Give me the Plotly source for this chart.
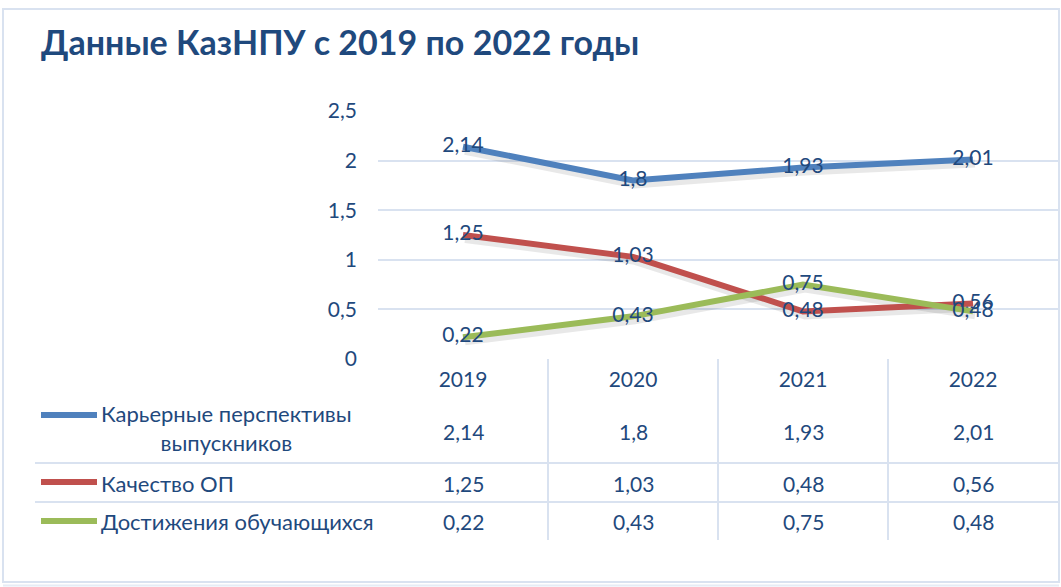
import plotly.graph_objects as go

# ---- data ----
years = ["2019", "2020", "2021", "2022"]
series_names = ["Карьерные перспективы<br>выпускников", "Качество ОП", "Достижения обучающихся"]
career = [2.14, 1.80, 1.93, 2.01]
quality = [1.25, 1.03, 0.48, 0.56]
achievements = [0.22, 0.43, 0.75, 0.48]
y_ticks = [0, 0.5, 1, 1.5, 2, 2.5]
title_text = "Данные КазНПУ с 2019 по 2022 годы"

series_values = [career, quality, achievements]
colors = ["#4F81BD", "#C0504D", "#9BBB59"]
TXT = "#1F497D"
GRID = "#D9E2F0"
FONT = "Lato"

W, H = 1061, 587
L, R, T, B = 378, 3, 111, 228
PW = W - L - R
PH = H - T - B


def fmt(v):
    return f"{v:g}".replace(".", ",")


def px_x(px):
    return (px - L) / PW


def px_y(py):
    return (H - B - py) / PH


fig = go.Figure()

# shadows (base axes, shifted range)
for vals in series_values:
    fig.add_trace(go.Scatter(
        x=years, y=vals, mode="lines", xaxis="x", yaxis="y",
        line=dict(color="rgba(0,0,0,0.09)", width=8), hoverinfo="skip", showlegend=False))

# main lines
for vals, col, name in zip(series_values, colors, series_names):
    fig.add_trace(go.Scatter(
        x=years, y=vals, mode="lines+text", xaxis="x2", yaxis="y2",
        name=name.replace("<br>", " "),
        line=dict(color=col, width=6),
        text=[fmt(v) for v in vals], textposition="middle center",
        textfont=dict(family=FONT, size=21, color=TXT),
        showlegend=False, cliponaxis=False))

shapes = []
annotations = []

n = len(years)
# table vertical dividers
for k in range(1, n):
    xv = k / n
    shapes.append(dict(type="line", xref="paper", yref="paper", x0=xv, x1=xv,
                       y0=0, y1=px_y(540), line=dict(color=GRID, width=2)))
# table horizontal lines
for py in [463, 502]:
    shapes.append(dict(type="line", xref="paper", yref="paper", x0=px_x(35), x1=1,
                       y0=px_y(py), y1=px_y(py), line=dict(color=GRID, width=2)))
# outer border
shapes.append(dict(type="rect", xref="paper", yref="paper",
                   x0=px_x(3), x1=px_x(1059), y0=px_y(582), y1=px_y(9),
                   line=dict(color=GRID, width=2)))
shapes.append(dict(type="line", xref="paper", yref="paper",
                   x0=px_x(3), x1=px_x(1059), y0=px_y(585.5), y1=px_y(585.5),
                   line=dict(color="#E6ECF5", width=2)))

row_y = [431, 483, 521]
key_y = [415, 482, 521]
label_y = [428, 483, 521]
for i, (vals, col, name) in enumerate(zip(series_values, colors, series_names)):
    shapes.append(dict(type="line", xref="paper", yref="paper",
                       x0=px_x(41), x1=px_x(97), y0=px_y(key_y[i]), y1=px_y(key_y[i]),
                       line=dict(color=col, width=6)))
    annotations.append(dict(text=name, xref="paper", yref="paper", x=px_x(99), y=px_y(label_y[i]),
                            xanchor="left", yanchor="middle", align="center", showarrow=False,
                            font=dict(family=FONT, size=22, color=TXT)))
    for j, v in enumerate(vals):
        annotations.append(dict(text=fmt(v), xref="paper", yref="paper", x=(j + 0.5) / n,
                                y=px_y(row_y[i]), xanchor="center", yanchor="middle",
                                showarrow=False, font=dict(family=FONT, size=21, color=TXT)))

annotations.append(dict(text=f"<b>{title_text}</b>", xref="paper", yref="paper",
                        x=px_x(39), y=px_y(42), xanchor="left", yanchor="middle",
                        showarrow=False, font=dict(family=FONT, size=34, color=TXT)))

dy = 4 * 2.5 / PH
dx = 2 * 4 / PW
fig.update_layout(
    width=W, height=H, autosize=False,
    margin=dict(l=L, r=R, t=T, b=B),
    paper_bgcolor="white", plot_bgcolor="white",
    separators=", ",
    xaxis=dict(type="category", range=[-0.5 - dx, 3.5 - dx], visible=False, fixedrange=True),
    yaxis=dict(range=[0 + dy, 2.5 + dy], visible=False, fixedrange=True),
    xaxis2=dict(type="category", overlaying="x", range=[-0.5, 3.5], showgrid=False,
                showline=False, zeroline=False, ticks="", ticklabelstandoff=6,
                tickfont=dict(family=FONT, size=21, color=TXT)),
    yaxis2=dict(overlaying="y", range=[0, 2.5], tickvals=y_ticks, showgrid=True,
                gridcolor=GRID, gridwidth=2, zeroline=False, showline=False, ticks="",
                ticklabelstandoff=20, tickfont=dict(family=FONT, size=21, color=TXT)),
    shapes=shapes, annotations=annotations, showlegend=False,
)

fig.write_html("out.html", config={"displayModeBar": False},
               post_script="document.body.style.margin='0';")
